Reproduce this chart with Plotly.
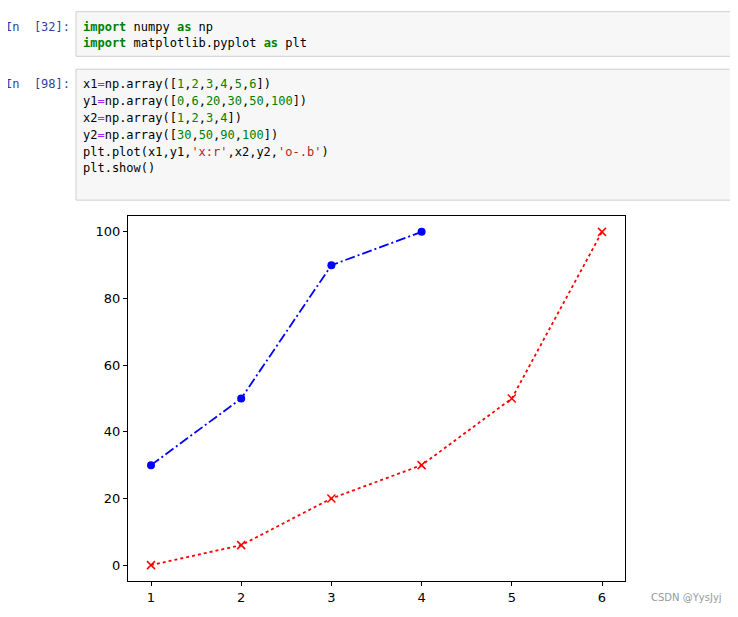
import plotly.graph_objects as go

x1 = [1, 2, 3, 4, 5, 6]
y1 = [0, 6, 20, 30, 50, 100]
x2 = [1, 2, 3, 4]
y2 = [30, 50, 90, 100]
xticks = [1, 2, 3, 4, 5, 6]
yticks = [0, 20, 40, 60, 80, 100]

O = 8  # page body margin offset
W, H = 738 - O, 617 - O
L, R, T, B = 128 - O, 625 - O, 216 - O, 584 - O
def px(x): return (x - O - L) / (R - L)
def py(y): return (B - (y - O)) / (B - T)

fig = go.Figure()
fig.add_trace(go.Scatter(x=x1, y=y1, mode="lines+markers",
    line=dict(color="red", dash="dot", width=1.8),
    marker=dict(symbol="x-thin", size=8, line=dict(color="red", width=1.5), color="red")))
fig.add_trace(go.Scatter(x=x2, y=y2, mode="lines+markers",
    line=dict(color="blue", dash="10px,3px,2px,3px", width=1.8),
    marker=dict(symbol="circle", size=8, color="blue")))

fig.update_layout(
    width=W, height=H, showlegend=False,
    margin=dict(l=L, r=W - R, t=T, b=H - B),
    paper_bgcolor="white", plot_bgcolor="white",
    font=dict(family="DejaVu Sans", size=13, color="black"),
    xaxis=dict(range=[0.745, 6.255], tickvals=xticks, showgrid=False, zeroline=False,
               showline=True, mirror=True, linecolor="black", linewidth=1,
               ticks="outside", ticklen=4, tickcolor="black"),
    yaxis=dict(range=[-4.76, 104.76], tickvals=yticks, showgrid=False, zeroline=False,
               showline=True, mirror=True, linecolor="black", linewidth=1,
               ticks="outside", ticklen=4, tickcolor="black"),
)

shapes = []
for (y0, y1p) in [(10, 55), (68, 200)]:
    shapes.append(dict(type="rect", xref="paper", yref="paper",
        x0=px(76), x1=px(737), y0=py(y1p), y1=py(y0),
        fillcolor="#f7f7f7", line=dict(color="#cfcfcf", width=1), layer="below"))
fig.update_layout(shapes=shapes)

G = "#008000"; P = "#aa22ff"; S = "#ba2121"; N = "#008000"
def n(s): return f"<span style='color:{N}'>{s}</span>"
eq = f"<span style='color:{P}'>=</span>"
lines = [
    (25, f"<b><span style='color:{G}'>import</span></b> numpy <b><span style='color:{G}'>as</span></b> np"),
    (42, f"<b><span style='color:{G}'>import</span></b> matplotlib.pyplot <b><span style='color:{G}'>as</span></b> plt"),
    (83, "x1" + eq + "np.array([" + ",".join(n(v) for v in "123456") + "])"),
    (100, "y1" + eq + "np.array([" + ",".join(n(v) for v in ["0","6","20","30","50","100"]) + "])"),
    (117, "x2" + eq + "np.array([" + ",".join(n(v) for v in "1234") + "])"),
    (134, "y2" + eq + "np.array([" + ",".join(n(v) for v in ["30","50","90","100"]) + "])"),
    (151, f"plt.plot(x1,y1,<span style='color:{S}'>'x:r'</span>,x2,y2,<span style='color:{S}'>'o-.b'</span>)"),
    (168, "plt.show()"),
]
ann = []
for y, t in lines:
    ann.append(dict(text=t, xref="paper", yref="paper", x=px(81), y=py(y),
        xanchor="left", yanchor="middle", showarrow=False,
        font=dict(family="DejaVu Sans Mono", size=12, color="black")))
for y, t in [(25, "In  [32]:"), (83, "In  [98]:")]:
    ann.append(dict(text=t, xref="paper", yref="paper", x=px(72), y=py(y),
        xanchor="right", yanchor="middle", showarrow=False,
        font=dict(family="DejaVu Sans Mono", size=12, color="#303f9f")))
ann.append(dict(text="CSDN @YysJyj", xref="paper", yref="paper", x=px(724), y=py(601),
    xanchor="right", yanchor="middle", showarrow=False,
    font=dict(family="DejaVu Sans", size=10, color="#999999")))
fig.update_layout(annotations=ann)

fig.write_html("out.html")
